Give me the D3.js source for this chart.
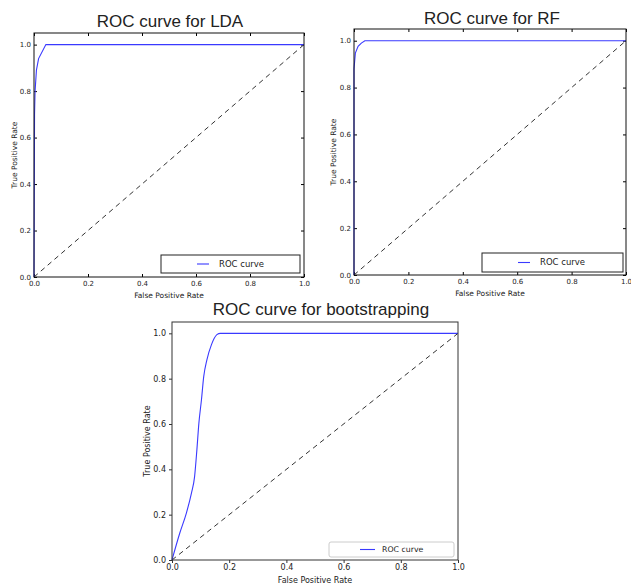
<!DOCTYPE html>
<html>
<head>
<meta charset="utf-8">
<script src="https://cdnjs.cloudflare.com/ajax/libs/d3/7.8.5/d3.min.js"></script>
<style>
  body { margin: 0; background: #fff; }
  svg { display: block; }
  text { fill: #222; }
</style>
</head>
<body>
<script>
// DATA
var titles = ["ROC curve for LDA", "ROC curve for RF", "ROC curve for bootstrapping"];
var tickValues = [0, 0.2, 0.4, 0.6, 0.8, 1.0];
var diagonal = [0, 1];
var legendLabel = "ROC curve";

var ldaFpr = [0, 0.002, 0.004, 0.009, 0.017, 0.044, 1];
var ldaTpr = [0, 0.70, 0.80, 0.89, 0.94, 1.0, 1.0];

var rfFpr = [0, 0, 0.005, 0.015, 0.027, 0.04, 1];
var rfTpr = [0, 0.88, 0.947, 0.976, 0.99, 1.0, 1.0];

var bootFpr = [0, 0.027, 0.05, 0.068, 0.079, 0.087, 0.094, 0.103, 0.111, 0.122, 0.138, 0.157, 0.169, 1];
var bootTpr = [0, 0.118, 0.206, 0.295, 0.368, 0.486, 0.604, 0.707, 0.81, 0.883, 0.95, 0.994, 1.0, 1.0];

function zipPts(xs, ys) {
    return xs.map(function(x, i){ return {x: x, y: ys[i]}; });
}

// panel layouts
var panels = [
    {title: titles[0], pts: zipPts(ldaFpr, ldaTpr), classic: true,
     left: 34, right: 304, top: 33, bottom: 277,
     titleX: 170, titleY: 27, yLabelX: 14, fs: 7, lfs: 7.5,
     legend: {x: 161, y: 255, w: 139, h: 18}},
    {title: titles[1], pts: zipPts(rfFpr, rfTpr), classic: true,
     left: 354, right: 626, top: 29, bottom: 275,
     titleX: 492, titleY: 24, yLabelX: 333, fs: 7, lfs: 7.5,
     legend: {x: 482, y: 253, w: 141, h: 19}},
    {title: titles[2], pts: zipPts(bootFpr, bootTpr), classic: false,
     left: 172, right: 458, top: 322, bottom: 560,
     titleX: 321, titleY: 315, yLabelX: 147, fs: 8, lfs: 8,
     legend: {x: 329, y: 542, w: 125, h: 15}}
];

var svg = d3.select("body").append("svg")
    .attr("width", 631)
    .attr("height", 584);

svg.append("rect").attr("width", 631).attr("height", 584).attr("fill", "#fff");

panels.forEach(function(p){

    var xScale = d3.scaleLinear().domain([0, 1]).range([p.left, p.right]);
    var yScale = d3.scaleLinear().domain([0, 1.05]).range([p.bottom, p.top]);

    var g = svg.append("g");
    var tickLen = p.classic ? -3 : 3;

    // axes
    g.append("g")
        .attr("transform", "translate(0," + p.bottom + ")")
        .call(d3.axisBottom(xScale).tickValues(tickValues).tickFormat(d3.format(".1f"))
            .tickSize(tickLen).tickPadding(p.classic ? 4 : 1.5));
    g.append("g")
        .attr("transform", "translate(" + p.left + ",0)")
        .call(d3.axisLeft(yScale).tickValues(tickValues).tickFormat(d3.format(".1f"))
            .tickSize(tickLen).tickPadding(p.classic ? 3 : 3));

    if (p.classic) {
        // classic style has inward ticks on all four sides
        g.append("g")
            .attr("transform", "translate(0," + p.top + ")")
            .call(d3.axisTop(xScale).tickValues(tickValues).tickFormat("").tickSize(-3));
        g.append("g")
            .attr("transform", "translate(" + p.right + ",0)")
            .call(d3.axisRight(yScale).tickValues(tickValues).tickFormat("").tickSize(-3));
    }

    g.selectAll(".domain").remove();
    g.selectAll(".tick line").attr("stroke", p.classic ? "#000" : "#333");
    g.selectAll(".tick text")
        .style("font-family", "DejaVu Sans")
        .style("font-size", p.fs + "px")
        .attr("fill", "#222");

    // diagonal reference line
    g.append("line")
        .attr("x1", xScale(diagonal[0])).attr("y1", yScale(diagonal[0]))
        .attr("x2", xScale(diagonal[1])).attr("y2", yScale(diagonal[1]))
        .attr("stroke", "#333")
        .attr("stroke-width", 1)
        .attr("stroke-dasharray", "5,4");

    // ROC curve
    var line = d3.line()
        .x(function(d){ return xScale(d.x); })
        .y(function(d){ return yScale(d.y); })
        .curve(p.classic ? d3.curveLinear : d3.curveMonotoneX);

    g.append("path")
        .datum(p.pts)
        .attr("d", line)
        .attr("fill", "none")
        .attr("stroke", "#3a3aff")
        .attr("stroke-width", 1.1);

    // frame
    g.append("rect")
        .attr("x", p.left).attr("y", p.top)
        .attr("width", p.right - p.left).attr("height", p.bottom - p.top)
        .attr("fill", "none")
        .attr("stroke", p.classic ? "#111" : "#333")
        .attr("stroke-width", 1);

    // title + labels
    g.append("text")
        .attr("x", p.titleX).attr("y", p.titleY)
        .attr("text-anchor", "middle")
        .style("font-family", "Liberation Sans, Arial, sans-serif")
        .style("font-size", "17px")
        .attr("fill", "#000")
        .text(p.title);

    g.append("text")
        .attr("x", (p.left + p.right) / 2)
        .attr("y", p.bottom + (p.classic ? 21 : 23))
        .attr("text-anchor", "middle")
        .style("font-family", "DejaVu Sans")
        .style("font-size", p.lfs + "px")
        .text("False Positive Rate");

    g.append("text")
        .attr("transform", "translate(" + (p.yLabelX + 2.5) + "," + ((p.top + p.bottom) / 2) + ") rotate(-90)")
        .attr("text-anchor", "middle")
        .style("font-family", "DejaVu Sans")
        .style("font-size", p.lfs + "px")
        .text("True Positive Rate");

    // legend
    var L = p.legend;
    g.append("rect")
        .attr("x", L.x).attr("y", L.y)
        .attr("width", L.w).attr("height", L.h)
        .attr("rx", p.classic ? 0 : 2)
        .attr("fill", "#fff")
        .attr("stroke", p.classic ? "#222" : "#ccc")
        .attr("stroke-width", 1);
    var lx = p.classic ? L.x + 36 : L.x + 31;
    var lw = p.classic ? 12 : 15;
    g.append("line")
        .attr("x1", lx).attr("x2", lx + lw)
        .attr("y1", L.y + L.h / 2).attr("y2", L.y + L.h / 2)
        .attr("stroke", "#3a3aff").attr("stroke-width", 1.1);
    g.append("text")
        .attr("x", lx + lw + (p.classic ? 10 : 7))
        .attr("y", L.y + L.h / 2)
        .attr("dy", "0.35em")
        .style("font-family", "DejaVu Sans")
        .style("font-size", (p.classic ? 8.5 : 7.8) + "px")
        .text(legendLabel);
});
</script>
</body>
</html>
